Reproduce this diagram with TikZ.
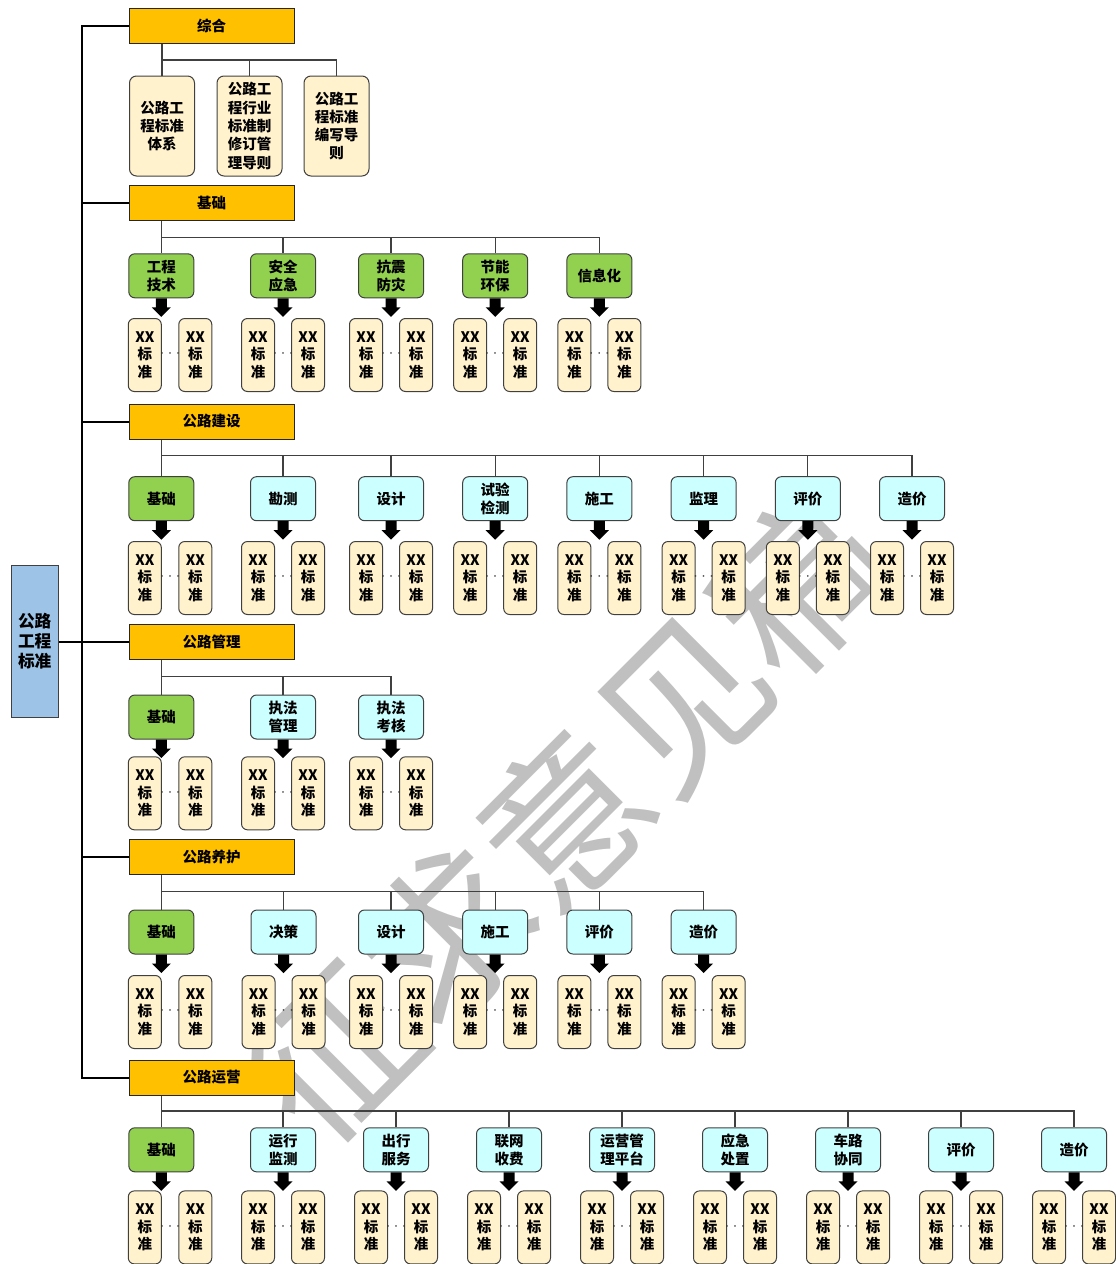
\documentclass[tikz,border=0pt]{standalone}
\usepackage{fontspec}
\setmainfont{Noto Sans CJK SC}[BoldFont={Noto Sans CJK SC Black}]
\newfontfamily\wmfont{Noto Sans CJK SC}
\usetikzlibrary{calc}
\definecolor{catc}{HTML}{FFC000}
\definecolor{greenc}{HTML}{92D050}
\definecolor{cyanc}{HTML}{CCFFFF}
\definecolor{creamc}{HTML}{FFF2CC}
\definecolor{rootc}{HTML}{9DC3E6}
\definecolor{wmc}{HTML}{C0C0C0}
\tikzset{
  trunk/.style={line width=2pt, draw=black},
  branch/.style={line width=1.2pt, draw=black!75},
  cat/.style={draw=black!85, line width=1pt, fill=catc, minimum width=165pt, minimum height=35pt, inner sep=0pt, font=\bfseries\fontsize{14.5}{18}\selectfont},
  kid/.style={draw=black!75, line width=1pt, rounded corners=6pt, minimum width=65pt, minimum height=44pt, inner sep=0pt, align=center, font=\bfseries\fontsize{14.5}{18.3}\selectfont},
  zbox/.style={draw=black!75, line width=1pt, rounded corners=7pt, fill=creamc, minimum width=65pt, minimum height=100pt, inner sep=0pt, align=center, font=\bfseries\fontsize{14.5}{18.3}\selectfont},
  xx/.style={draw=black!75, line width=1pt, rounded corners=6pt, fill=creamc, minimum width=33pt, minimum height=73pt, inner sep=0pt, align=center, font=\bfseries\fontsize{14.5}{17.5}\selectfont},
  rootbox/.style={draw=black!75, line width=1pt, fill=rootc, minimum width=47pt, minimum height=152pt, inner sep=0pt, align=center, font=\bfseries\fontsize{16.7}{20}\selectfont},
  dotsn/.style={inner sep=0pt, text=black!80, font=\fontsize{8}{8}\selectfont},
  wm/.style={text=wmc, rotate=45, inner sep=0pt, font=\wmfont\fontsize{165}{165}\selectfont},
}
\newcommand\drawsec[6]{%
  \foreach \cx/\lab/\col [count=\i] in {#6} {
    \node[kid, fill=\col] (#1c\i) at (\cx,#4) {\lab};
    \draw[branch] (161.3,#3) -- (\cx,#3) -- (#1c\i.north);
    \ifnum\i=1
      \node[xx] (#1a\i) at (\cx-16.5,#5) {XX\\标\\准};
      \node[xx] (#1b\i) at (\cx+34,#5) {XX\\标\\准};
    \else
      \node[xx] (#1a\i) at (\cx-25,#5) {XX\\标\\准};
      \node[xx] (#1b\i) at (\cx+25,#5) {XX\\标\\准};
    \fi
    \node[dotsn] (#1d\i) at ($(#1a\i.east)!0.5!(#1b\i.west)$) {···};
    \fill[black] ($(#1c\i.south)+(-5.5,0)$) -- ++(11,0) -- ++(0,9) -- ++(4,0) -- ++(-9.5,9.5) -- ++(-9.5,-9.5) -- ++(4,0) -- cycle;
  }
  \draw[branch] (#2.south -| #1c1.north) -- (#1c1.north);
}
\begin{document}
\begin{tikzpicture}[x=1pt,y=-1pt]
\useasboundingbox (0,0) rectangle (1116,1264);
\clip (0,0) rectangle (1116,1264);
% watermark
\node[wm] (wm) at (565,818) {征求意见稿};
% root and categories
\node[rootbox] (root) at (34.7,641.5) {公路\\工程\\标准};
\node[cat] (c0) at (211.5,25.8) {综合};
\node[cat] (c1) at (211.5,203.3) {基础};
\node[cat] (c2) at (211.5,421.5) {公路建设};
\node[cat] (c3) at (211.5,641.5) {公路管理};
\node[cat] (c4) at (211.5,857) {公路养护};
\node[cat] (c5) at (211.5,1077.5) {公路运营};
\coordinate (t0) at (82,25.8);
\coordinate (t5) at (82,1077.5);
\draw[trunk] (c0.west) -- (t0) -- (t5) -- (c5.west);
\draw[trunk] (c1.west) -- (c1.west -| t0);
\draw[trunk] (c2.west) -- (c2.west -| t0);
\draw[trunk] (c4.west) -- (c4.west -| t0);
\draw[trunk] (root.east) -- (c3.west);
% 综合
\node[zbox] (z1) at (162,126) {公路工\\程标准\\体系};
\node[zbox] (z2) at (249.5,126) {公路工\\程行业\\标准制\\修订管\\理导则};
\node[zbox] (z3) at (336.5,126) {公路工\\程标准\\编写导\\则};
\coordinate (zb) at (0,60);
\draw[branch] (z1.north |- c0.south) -- (z1.north);
\draw[branch] (z1.north |- zb) -- (z3.north |- zb) -- (z3.north);
\draw[branch] (z2.north |- zb) -- (z2.north);
% sections
\drawsec{s1}{c1}{237.3}{275.8}{355}{161.3/{工程\\技术}/greenc, 283/{安全\\应急}/greenc, 391/{抗震\\防灾}/greenc, 495.2/{节能\\环保}/greenc, 599.4/{信息化}/greenc}
\drawsec{s2}{c2}{455.5}{498.7}{578}{161.3/{基础}/greenc, 283/{勘测}/cyanc, 391/{设计}/cyanc, 495.2/{试验\\检测}/cyanc, 599.4/{施工}/cyanc, 703.6/{监理}/cyanc, 807.8/{评价}/cyanc, 912/{造价}/cyanc}
\drawsec{s3}{c3}{676.7}{717}{793.3}{161.3/{基础}/greenc, 283/{执法\\管理}/cyanc, 391/{执法\\考核}/cyanc}
\drawsec{s4}{c4}{891.7}{932}{1012}{161.3/{基础}/greenc, 283.5/{决策}/cyanc, 391/{设计}/cyanc, 495.2/{施工}/cyanc, 599.4/{评价}/cyanc, 703.6/{造价}/cyanc}
\drawsec{s5}{c5}{1111}{1149.8}{1227.4}{161.3/{基础}/greenc, 283/{运行\\监测}/cyanc, 396/{出行\\服务}/cyanc, 509/{联网\\收费}/cyanc, 622/{运营管\\理平台}/cyanc, 735/{应急\\处置}/cyanc, 848/{车路\\协同}/cyanc, 961/{评价}/cyanc, 1074/{造价}/cyanc}
\end{tikzpicture}
\end{document}
